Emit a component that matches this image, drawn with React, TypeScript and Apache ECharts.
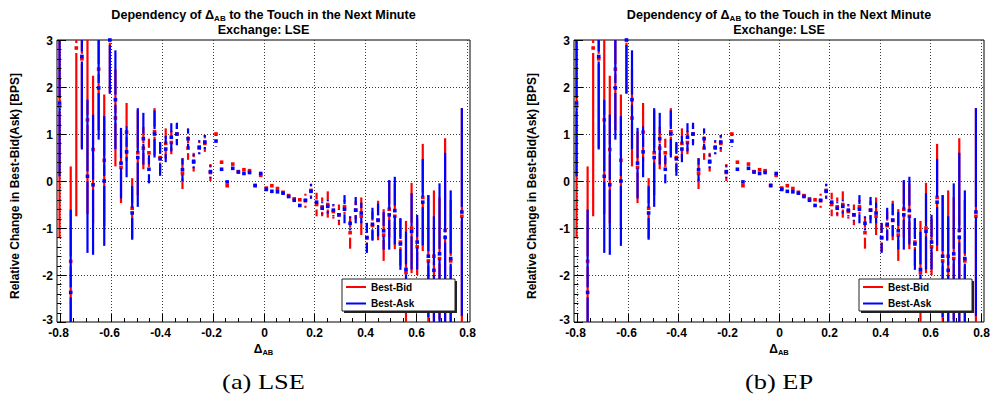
import React, { useEffect, useRef } from "react";
import * as echarts from "echarts";

// Δ_AB bin centres
const binCenters = [
  -0.803, -0.781, -0.759, -0.737, -0.715, -0.693, -0.671, -0.649, -0.627, -0.605,
  -0.583, -0.561, -0.539, -0.517, -0.495, -0.473, -0.451, -0.429, -0.407, -0.385,
  -0.363, -0.341, -0.319, -0.297, -0.275, -0.253, -0.231, -0.209, -0.187, -0.165,
  -0.143, -0.121, -0.099, -0.077, -0.055, -0.033, -0.011, 0.011, 0.033, 0.055,
  0.077, 0.099, 0.121, 0.143, 0.165, 0.187, 0.209, 0.231, 0.253, 0.275,
  0.297, 0.319, 0.341, 0.363, 0.385, 0.407, 0.429, 0.451, 0.473, 0.495,
  0.517, 0.539, 0.561, 0.583, 0.605, 0.627, 0.649, 0.671, 0.693, 0.715,
  0.737, 0.759, 0.781,
];

// Best-Bid: mean relative change [BPS] per bin and its error (null = empty bin)
const bidMean = [
  1.59, null, -1.71, 2.83, 2.6, 1.3, 0.67, 2.38, 0.44, 3.05,
  1.34, 0.29, 1.04, -0.58, 0.6, 0.7, 0.6, 1.05, 0.5, 0.8,
  0.82, 1.0, 0.16, 0.7, 0.4, 0.7, 0.8, 0.18, 1.0, 0.4,
  -0.1, 0.36, 0.2, 0.24, 0.22, -0.09, 0.12, -0.15, -0.1, -0.16,
  -0.24, -0.31, -0.38, -0.4, -0.42, -0.2, -0.5, -0.55, -0.5, -0.65,
  -0.72, -0.55, -1.1, -0.62, -0.75, -1.2, -0.95, -0.84, -1.15, -0.6,
  -0.75, -1.3, -1.95, -1.0, -1.4, -0.35, -1.7, -1.6, -1.65, -1.05,
  -1.7, null, -0.75,
];
const bidErr = [
  2.81, null, 2.02, 3.58, 1.9, 2.0, 1.57, 1.3, 1.4, 1.2,
  1.03, 0.76, 0.62, 0.64, 0.9, 0.45, 0.3, 0.5, 0.3, 0.32,
  0.25, 0.2, 0.33, 0.25, 0.2, 0.13, 0.18, 0.18, 0.1, 0.1,
  0.08, 0.04, 0.04, 0.03, 0.03, 0.03, 0.03, 0.03, 0.03, 0.03,
  0.03, 0.03, 0.04, 0.04, 0.15, 0.14, 0.25, 0.2, 0.28, 0.15,
  0.22, 0.15, 0.34, 0.2, 0.4, 0.3, 0.3, 0.42, 0.55, 0.6,
  0.7, 0.5, 1.1, 0.96, 0.6, 1.14, 1.4, 1.4, 1.3, 1.96,
  1.3, null, 2.3,
];

// Best-Ask: mean relative change [BPS] per bin and its error (null = empty bin)
const askMean = [
  1.66, null, -2.37, null, 2.65, 0.1, -0.08, 1.98, 0.0, 3.0,
  1.73, 0.38, 0.62, -0.68, 0.5, 0.9, 0.25, 1.0, 0.47, 0.68,
  0.93, 1.0, 0.24, 0.9, 0.42, 0.72, 0.83, 0.2, 0.85, 0.25,
  -0.02, 0.27, 0.19, 0.16, 0.18, -0.1, 0.16, -0.18, -0.22, -0.23,
  -0.26, -0.33, -0.41, -0.52, -0.41, -0.22, -0.45, -0.58, -0.54, -0.62,
  -0.72, -0.6, -0.9, -0.62, -0.68, -1.21, -0.92, -0.83, -1.06, -0.72,
  -0.63, -1.34, -1.88, -1.07, -1.3, -0.45, -1.6, -1.9, -1.55, -1.2,
  -1.65, null, -0.66,
];
const askErr = [
  1.56, null, 1.76, null, 1.98, 1.63, 1.49, 1.1, 1.38, 1.13,
  1.05, 0.75, 0.54, 0.57, 1.05, 0.55, 0.3, 0.5, 0.36, 0.28,
  0.3, 0.24, 0.24, 0.22, 0.15, 0.15, 0.15, 0.14, 0.12, 0.08,
  0.06, 0.05, 0.04, 0.03, 0.03, 0.03, 0.03, 0.03, 0.03, 0.03,
  0.03, 0.03, 0.04, 0.04, 0.1, 0.16, 0.1, 0.13, 0.15, 0.13,
  0.12, 0.3, 0.15, 0.28, 0.22, 0.32, 0.35, 0.35, 0.4, 0.74,
  0.72, 0.55, 0.8, 0.81, 0.58, 0.92, 1.3, 1.15, 1.5, 1.8,
  1.45, null, 2.21,
];

const xTickValues = [-0.8, -0.6, -0.4, -0.2, 0, 0.2, 0.4, 0.6, 0.8];
const xTickLabels = ["-0.8", "-0.6", "-0.4", "-0.2", "0", "0.2", "0.4", "0.6", "0.8"];
const yTickValues = [-3, -2, -1, 0, 1, 2, 3];
const yTickLabels = ["-3", "-2", "-1", "0", "1", "2", "3"];

const panelCaptions = ["(a) LSE", "(b) EP"];
const panelExchanges = ["LSE", "LSE"];
const seriesNames = ["Best-Bid", "Best-Ask"];
const seriesColors = ["#ff0000", "#0000ff"];

// frame of each pad (pixels)
const FRAMES = [
  { left: 57, top: 40, width: 413, height: 282 },
  { left: 574, top: 40, width: 410, height: 282 },
];
const X_RANGE = [-0.813, 0.813];
const Y_RANGE = [-3, 3];
const X_MINOR_DIV = 4;
const Y_MINOR_DIV = 5;

const SANS = "Liberation Sans";
const SERIF = "Liberation Serif";

function txt(text: string, size: number, align: string, vAlign: string, weight = "bold", family = SANS) {
  return {
    text,
    fontSize: size,
    fontWeight: weight,
    fontFamily: family,
    fill: "#000",
    textAlign: align,
    textVerticalAlign: vAlign,
    align,
    verticalAlign: vAlign,
  };
}

function errorBarSeries(pad: number, means: (number | null)[], errs: (number | null)[], color: string, name: string, z: number) {
  const data: number[][] = [];
  binCenters.forEach((x, k) => {
    const m = means[k];
    const e = errs[k];
    if (m != null && e != null) data.push([x, m, e]);
  });
  return {
    type: "custom",
    name,
    xAxisIndex: pad,
    yAxisIndex: pad,
    z,
    silent: true,
    data,
    encode: { x: 0, y: 1 },
    renderItem: (params: any, api: any) => {
      const x = api.value(0);
      const m = api.value(1);
      const e = api.value(2);
      const c = api.coord([x, m]);
      const hi = api.coord([x, m + e]);
      const lo = api.coord([x, m - e]);
      const cs = params.coordSys;
      const top = cs.y;
      const bottom = cs.y + cs.height;
      const clamp = (v: number) => Math.max(top, Math.min(bottom, v));
      const bw = 2.2;
      const ms = 3.6;
      const gap = 5;
      const children: any[] = [];
      const seg = (a: number, b: number) => {
        const y1 = clamp(a);
        const y2 = clamp(b);
        if (y2 - y1 > 0.2) {
          children.push({ type: "rect", shape: { x: c[0] - bw / 2, y: y1, width: bw, height: y2 - y1 }, style: { fill: color } });
        }
      };
      // error bar leaves room for the marker
      seg(hi[1], c[1] - gap);
      seg(c[1] + gap, lo[1]);
      if (c[1] >= top && c[1] <= bottom) {
        children.push({ type: "rect", shape: { x: c[0] - ms / 2, y: c[1] - ms / 2, width: ms, height: ms }, style: { fill: color } });
      }
      return { type: "group", children };
    },
  };
}

function minorValues(major: number[], div: number, range: number[]) {
  const out: number[] = [];
  for (let i = 0; i < major.length - 1; i++) {
    const step = (major[i + 1] - major[i]) / div;
    for (let j = 1; j < div; j++) out.push(major[i] + j * step);
  }
  const step0 = (major[1] - major[0]) / div;
  for (let v = major[0] - step0; v >= range[0] - 1e-9; v -= step0) out.push(v);
  const stepN = (major[major.length - 1] - major[major.length - 2]) / div;
  for (let v = major[major.length - 1] + stepN; v <= range[1] + 1e-9; v += stepN) out.push(v);
  return out;
}

function gridSeries(pad: number) {
  return {
    type: "custom",
    xAxisIndex: pad,
    yAxisIndex: pad,
    z: 1,
    silent: true,
    data: [[0, 0]],
    renderItem: (params: any, api: any) => {
      const cs = params.coordSys;
      const children: any[] = [];
      const dash = { stroke: "#3a3a3a", lineWidth: 1, lineDash: [1, 2] };
      xTickValues.forEach((v) => {
        const px = Math.round(api.coord([v, 0])[0]) + 0.5;
        children.push({ type: "line", shape: { x1: px, y1: cs.y, x2: px, y2: cs.y + cs.height }, style: dash });
      });
      yTickValues.forEach((v) => {
        if (v <= Y_RANGE[0] || v >= Y_RANGE[1]) return;
        const py = Math.round(api.coord([0, v])[1]) + 0.5;
        children.push({ type: "line", shape: { x1: cs.x, y1: py, x2: cs.x + cs.width, y2: py }, style: dash });
      });
      return { type: "group", children };
    },
  };
}

function axisSeries(pad: number) {
  const xMinor = minorValues(xTickValues, X_MINOR_DIV, X_RANGE);
  const yMinor = minorValues(yTickValues, Y_MINOR_DIV, Y_RANGE);
  return {
    type: "custom",
    xAxisIndex: pad,
    yAxisIndex: pad,
    z: 10,
    silent: true,
    clip: false,
    data: [[0, 0]],
    renderItem: (params: any, api: any) => {
      const cs = params.coordSys;
      const bottom = cs.y + cs.height;
      const left = cs.x;
      const children: any[] = [];
      const tick = { stroke: "#000", lineWidth: 1 };
      xTickValues.forEach((v, i) => {
        const px = Math.round(api.coord([v, 0])[0]) + 0.5;
        children.push({ type: "line", shape: { x1: px, y1: bottom, x2: px, y2: bottom - 8 }, style: tick });
        const shift = xTickLabels[i].startsWith("-") ? -2 : 0;
        children.push({ type: "text", x: px + shift, y: bottom + 11, style: txt(xTickLabels[i], 12, "center", "middle") });
      });
      xMinor.forEach((v) => {
        const px = Math.round(api.coord([v, 0])[0]) + 0.5;
        children.push({ type: "line", shape: { x1: px, y1: bottom, x2: px, y2: bottom - 4 }, style: tick });
      });
      yTickValues.forEach((v, i) => {
        const py = Math.round(api.coord([0, v])[1]) + 0.5;
        children.push({ type: "line", shape: { x1: left, y1: py, x2: left + 9, y2: py }, style: tick });
        // the lowest label sits a little higher so it clears the x labels
        const lift = v <= Y_RANGE[0] ? -3 : 0;
        children.push({ type: "text", x: left - 4, y: py + lift, style: txt(yTickLabels[i], 12, "right", "middle") });
      });
      yMinor.forEach((v) => {
        const py = Math.round(api.coord([0, v])[1]) + 0.5;
        children.push({ type: "line", shape: { x1: left, y1: py, x2: left + 4.5, y2: py }, style: tick });
      });
      return { type: "group", children };
    },
  };
}

function padGraphics(pad: number) {
  const f = FRAMES[pad];
  const cx = f.left + f.width / 2;
  const els: any[] = [];
  // pad title, two lines
  els.push({
    type: "text",
    x: cx,
    y: 15,
    style: {
      ...txt("{b|Dependency of Δ}{s|AB}{b| to the Touch in the Next Minute}", 12.6, "center", "middle"),
      rich: {
        b: { fontSize: 12.6, fontWeight: "bold", fontFamily: SANS, fill: "#000" },
        s: { fontSize: 8, fontWeight: "bold", fontFamily: SANS, fill: "#000", padding: [6, 0, 0, 0] },
      },
    },
  });
  els.push({ type: "text", x: cx, y: 30, style: txt(`Exchange: ${panelExchanges[pad]}`, 12.6, "center", "middle") });
  // y axis title
  els.push({
    type: "text",
    x: f.left - 42,
    y: 186,
    rotation: Math.PI / 2,
    style: txt("Relative Change in Best-Bid(Ask) [BPS]", 12, "center", "middle"),
  });
  // x axis title
  els.push({
    type: "text",
    x: cx,
    y: 349,
    style: {
      ...txt("{b|Δ}{s|AB}", 12, "center", "middle"),
      rich: {
        b: { fontSize: 12, fontWeight: "bold", fontFamily: SANS, fill: "#000" },
        s: { fontSize: 7.5, fontWeight: "bold", fontFamily: SANS, fill: "#000", padding: [6, 0, 0, 0] },
      },
    },
  });
  // sub-figure caption, set in a wide serif face
  els.push({
    type: "group",
    x: cx,
    y: 381,
    scaleX: 1.2,
    scaleY: 1,
    children: [{ type: "text", x: 0, y: 0, style: txt(panelCaptions[pad], 22, "center", "middle", "normal", SERIF) }],
  });
  // legend box with shadow
  const lx = f.left + 285;
  const ly = f.top + 239;
  const lw = 113;
  const lh = 32;
  els.push({ type: "rect", shape: { x: lx + 2, y: ly + 2, width: lw, height: lh }, style: { fill: "#222" }, z: 20 });
  els.push({ type: "rect", shape: { x: lx, y: ly, width: lw, height: lh }, style: { fill: "#fff", stroke: "#222", lineWidth: 1 }, z: 21 });
  seriesNames.forEach((name, i) => {
    const yy = ly + 8 + i * 16.5;
    els.push({ type: "line", shape: { x1: lx + 4, y1: yy, x2: lx + 24, y2: yy }, style: { stroke: seriesColors[i], lineWidth: 2 }, z: 22 });
    els.push({ type: "text", x: lx + 29, y: yy, style: txt(name, 10, "left", "middle"), z: 22 });
  });
  return els;
}

export default function App() {
  const ref = useRef<HTMLDivElement>(null);
  useEffect(() => {
    if (!ref.current) return;
    const chart = echarts.init(ref.current, undefined, { renderer: "svg" });
    const pads = [0, 1];
    const option: any = {
      animation: false,
      backgroundColor: "#fff",
      grid: pads.map((p) => ({
        left: FRAMES[p].left,
        top: FRAMES[p].top,
        width: FRAMES[p].width,
        height: FRAMES[p].height,
        show: true,
        borderColor: "#000",
        borderWidth: 1,
        backgroundColor: "transparent",
        containLabel: false,
      })),
      xAxis: pads.map((p) => ({
        type: "value",
        gridIndex: p,
        min: X_RANGE[0],
        max: X_RANGE[1],
        axisLine: { show: false },
        axisTick: { show: false },
        axisLabel: { show: false },
        splitLine: { show: false },
      })),
      yAxis: pads.map((p) => ({
        type: "value",
        gridIndex: p,
        min: Y_RANGE[0],
        max: Y_RANGE[1],
        axisLine: { show: false },
        axisTick: { show: false },
        axisLabel: { show: false },
        splitLine: { show: false },
      })),
      series: pads.flatMap((p) => [
        gridSeries(p),
        errorBarSeries(p, bidMean, bidErr, seriesColors[0], seriesNames[0], 2),
        errorBarSeries(p, askMean, askErr, seriesColors[1], seriesNames[1], 3),
        axisSeries(p),
      ]),
      graphic: { elements: pads.flatMap((p) => padGraphics(p)) },
    };
    chart.setOption(option);
    return () => chart.dispose();
  }, []);
  return <div ref={ref} style={{ position: "fixed", left: 0, top: 0, width: 991, height: 396, background: "#fff" }} />;
}
